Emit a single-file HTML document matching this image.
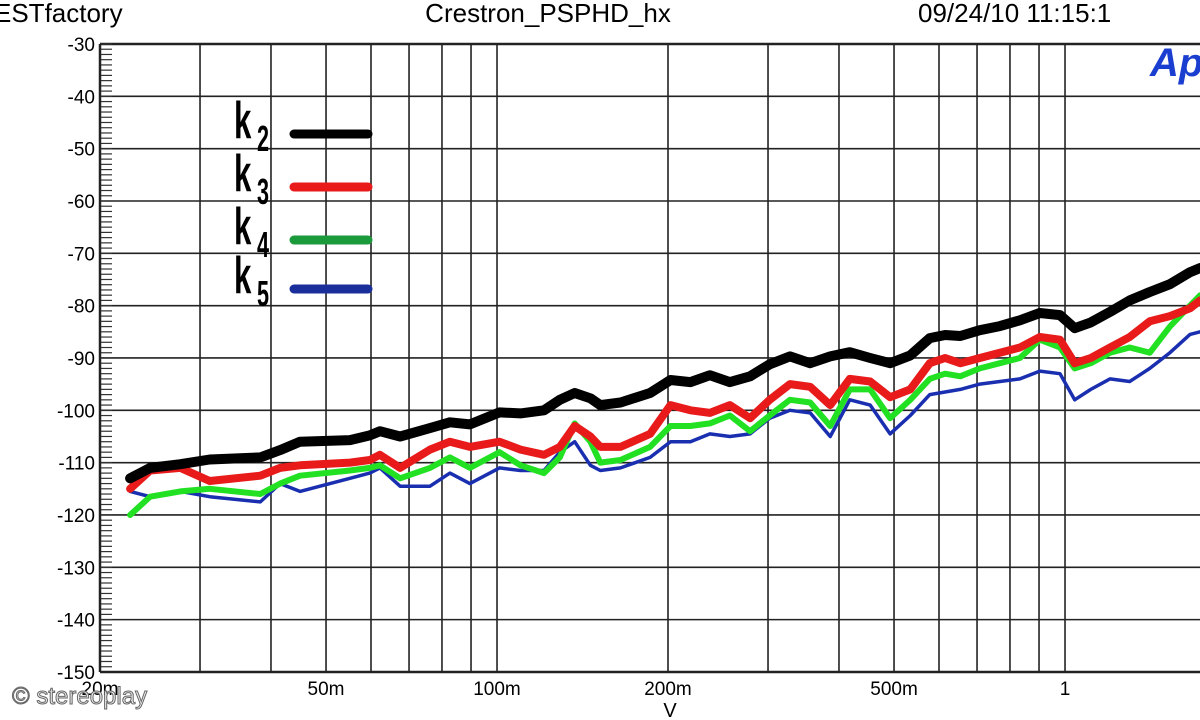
<!DOCTYPE html>
<html><head><meta charset="utf-8"><style>
body{margin:0;background:#fff;}
svg{display:block;font-family:"Liberation Sans",sans-serif;}
</style></head><body>
<svg id="c" width="1200" height="720" viewBox="0 0 1200 720">
<text x="-6" y="22" font-size="26">ESTfactory</text>
<text x="548" y="22" font-size="26" text-anchor="middle">Crestron_PSPHD_hx</text>
<text x="918" y="22" font-size="26">09/24/10 11:15:1</text>
<g id="grid"></g>
<g id="yt"></g>
<g id="xt"></g>
<text x="670" y="717" font-size="20" text-anchor="middle">V</text>
<text x="1150" y="76" font-size="40" font-weight="bold" font-style="italic" fill="#1a3fd0">Ap</text>
<g id="series"></g>
<g id="legend"></g>
<text x="12" y="704" font-size="24" fill="#eee" stroke="#666" stroke-width="1">© stereoplay</text>
</svg>
<script>
const volts=[0.0226,0.0245,0.0277,0.0312,0.0383,0.0415,0.045,0.0551,0.0597,0.0622,0.0675,0.0762,0.0826,0.0896,0.101,0.110,0.121,0.129,0.137,0.146,0.152,0.165,0.186,0.202,0.219,0.237,0.257,0.279,0.302,0.328,0.356,0.386,0.418,0.454,0.492,0.534,0.578,0.615,0.654,0.708,0.768,0.833,0.903,0.980,1.04,1.11,1.20,1.30,1.41,1.53,1.66,1.73];
const k2=[-113,-111,-110.3,-109.4,-109,-107.6,-106,-105.7,-104.8,-104,-105,-103.4,-102.3,-102.7,-100.4,-100.6,-100,-98,-96.7,-97.7,-99,-98.5,-96.7,-94.2,-94.6,-93.3,-94.6,-93.5,-91.2,-89.7,-91,-89.7,-88.9,-90,-91,-89.5,-86.2,-85.6,-85.8,-84.7,-83.9,-82.8,-81.4,-81.8,-84.3,-83.2,-81.2,-79,-77.4,-75.9,-73.6,-72.8];
const k3=[-115,-111.5,-111,-113.5,-112.5,-111,-110.5,-110,-109.5,-108.5,-111,-107.5,-106,-107,-106,-107.5,-108.5,-107,-103,-105,-107,-107,-104.5,-99,-100,-100.5,-99,-101.5,-98,-95,-95.5,-99,-94,-94.5,-97.5,-96,-91,-90,-91,-90,-89,-88,-86,-86.5,-91,-90,-88,-86,-83,-82,-80.5,-79];
const k4=[-120,-116.5,-115.5,-115,-116,-114,-112.5,-111.5,-111,-110.5,-113,-111,-109,-111,-108,-110.5,-112,-109,-102.5,-106,-110,-109.5,-107,-103,-103,-102.5,-101,-104,-101,-98,-98.5,-103,-96,-96,-101.5,-98,-94,-93,-93.5,-92,-91,-90,-86.5,-88,-92,-91,-89,-88,-89,-84,-80,-78];
const k5=[-115.5,-116.5,-115.5,-116.5,-117.5,-114,-115.5,-113,-112,-111,-114.5,-114.5,-112,-114,-111,-111.5,-111.5,-108,-106,-110.5,-111.5,-111,-109,-106,-106,-104.5,-105,-104.5,-101.5,-100,-100.5,-105,-98,-99,-104.5,-101,-97,-96.5,-96,-95,-94.5,-94,-92.5,-93,-98,-96,-94,-94.5,-92,-89,-85.5,-85];
const yTicks=[-30,-40,-50,-60,-70,-80,-90,-100,-110,-120,-130,-140,-150];
const xGrid=[0.03,0.04,0.05,0.06,0.07,0.08,0.09,0.1,0.2,0.3,0.4,0.5,0.6,0.7,0.8,0.9,1,2];
const xLabels=["20m","50m","100m","200m","500m","1"];
const xLabelVals=[0.02,0.05,0.1,0.2,0.5,1];
const NS="http://www.w3.org/2000/svg";
const X=v=>100+568*Math.log10(v/0.02);
const Y=d=>44+(-30-d)*5.233;
function mk(t,a,p){const e=document.createElementNS(NS,t);for(const k in a)e.setAttribute(k,a[k]);p.appendChild(e);return e;}
const grid=document.getElementById('grid'),yt=document.getElementById('yt'),xt=document.getElementById('xt');
yTicks.forEach(d=>{
 const l=mk('line',{x1:100,x2:1200,y1:Y(d),y2:Y(d),stroke:'#222','stroke-width':(d==-30||d==-150)?2.5:1.6},grid);
 
 
 const t=mk('text',{x:95,y:Y(d)+7,'font-size':19,'text-anchor':'end'},yt);t.textContent=d;
 
 
});
for(let d=-30;d>-150;d-=1){const l=mk('line',{x1:101,x2:112,y1:Y(d),y2:Y(d),stroke:'#333','stroke-width':1.2},yt);
 
 }
mk('line',{x1:100,x2:100,y1:44,y2:672,stroke:'#222','stroke-width':2.5},grid);
xGrid.forEach(v=>{const l=mk('line',{x1:X(v),x2:X(v),y1:44,y2:672,stroke:'#222','stroke-width':1.6},grid);
 
 });
xLabels.forEach((s,i)=>{const t=mk('text',{x:X(xLabelVals[i]),y:695,'font-size':19,'text-anchor':'middle'},xt);t.textContent=s;
 
 });
const ser=document.getElementById('series');
[[k5,'#1a2fb0',3.5,'k5'],[k4,'#22e022',6,'k4'],[k3,'#e81a1a',8,'k3'],[k2,'#000',10,'k2']].forEach(([arr,c,w,n])=>{
 const p=mk('polyline',{points:arr.map((d,i)=>X(volts[i]).toFixed(1)+','+Y(d).toFixed(1)).join(' '),fill:'none',stroke:c,'stroke-width':w,'stroke-linejoin':'round','stroke-linecap':'round'},ser);
 
 
});
const lg=document.getElementById('legend');
[['2','#000',134],['3','#e81a1a',187],['4','#1a9a3a',240],['5','#1a2f9a',289]].forEach(([s,c,y])=>{
 const g=mk('g',{},lg);
 
 
 const t=mk('text',{x:0,y:0,'font-size':52,'font-weight':'bold',transform:`translate(234,${y+4}) scale(0.6,1)`},g);
 t.textContent='k';
 const s2=mk('text',{x:0,y:0,'font-size':36,'font-weight':'bold',transform:`translate(257,${y+17}) scale(0.6,1)`},g);
 s2.textContent=s;
 mk('line',{x1:294,x2:368,y1:y,y2:y,stroke:c,'stroke-width':9,'stroke-linecap':'round'},g);
});
</script>
</body></html>
